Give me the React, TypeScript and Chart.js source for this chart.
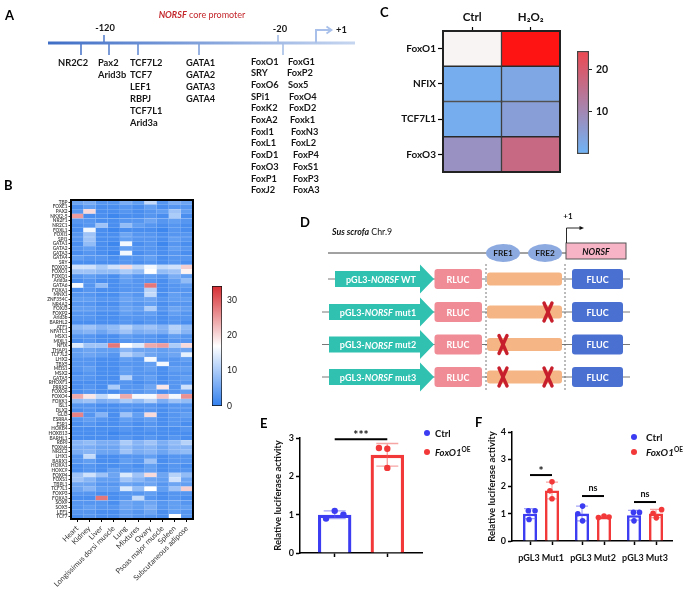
import React, { useEffect, useRef } from 'react';
import { Chart, registerables } from 'chart.js';

Chart.register(...registerables);

const FONT = 'Lato, "DejaVu Sans", "Noto Sans", sans-serif';
Chart.defaults.font.family = FONT;
Chart.defaults.color = '#111';

// ---------------- Panel A (text content) ----------------
const promoterMarks = ['-120', '-20', '+1'];
const siteNR2C2 = ['NR2C2'];
const sitePax = ['Pax2', 'Arid3b'];
const siteTCF = ['TCF7L2', 'TCF7', 'LEF1', 'RBPJ', 'TCF7L1', 'Arid3a'];
const siteGATA = ['GATA1', 'GATA2', 'GATA3', 'GATA4'];
const siteFoxA = ['FoxO1', 'SRY', 'FoxO6', 'SPi1', 'FoxK2', 'FoxA2', 'FoxI1', 'FoxL1', 'FoxD1', 'FoxO3', 'FoxP1', 'FoxJ2'];
const siteFoxB = ['FoxG1', 'FoxP2', 'Sox5', 'FoxO4', 'FoxD2', 'Foxk1', 'FoxN3', 'FoxL2', 'FoxP4', 'FoxS1', 'FoxP3', 'FoxA3'];

// ---------------- Panel B ----------------
const tissues = ['Heart', 'Kidney', 'Liver', 'Longissimus dorsi muscle', 'Lung', 'Mixtures', 'Ovary', 'Psoas major muscle', 'Spleen', 'Subcutaneous adipose'];
const tfGenes = ['TBP', 'FOXE1', 'PAX2', 'NKX2-5', 'NR2F1', 'NR2C1', 'FOXL1', 'FOXI1', 'SPI1', 'GATA1', 'GATA2', 'GATA3', 'GATA4', 'SRY', 'FOXO3', 'FOXO1', 'FOXD1', 'Arid3a', 'GATA6', 'FOXA1', 'MNX1', 'ZNF354C', 'NR4A2', 'FOXJ3', 'FOXP2', 'Arid3b', 'BARHL2', 'ATF1', 'NFATC1', 'MSX1', 'MIXL1', 'NFIX', 'THAP1', 'TCF7L2', 'LHX2', 'TBX5', 'MEIS1', 'MSX2', 'GATA5', 'RHOXF1', 'PRRX2', 'FOXO6', 'FOXO4', 'FOXK1', 'ISL1', 'DLX2', 'GLI3', 'ESRRA', 'ESR1', 'HOXB4', 'HOXB13', 'BARHL1', 'RBPJ', 'FOXN4', 'NR2C2', 'LHX1', 'BARX1', 'HOXA1', 'HOXC9', 'FOXP4', 'FOXS1', 'TBPL1', 'TCF7L1', 'FOXP3', 'FOXA3', 'SOX9', 'SOX5', 'LEF1', 'TCF7'];
const tfExpression = [
  [5, 6, 3, 3, 6, 4, 12, 3, 6, 5],
  [2, 4, 2, 2, 3, 2, 4, 2, 3, 3],
  [3, 20, 2, 2, 3, 2, 3, 4, 9, 4],
  [25, 2, 2, 1, 2, 2, 3, 2, 10, 2],
  [3, 3, 2, 2, 3, 3, 5, 3, 4, 3],
  [2, 3, 9, 2, 8, 4, 3, 2, 3, 2],
  [2, 16, 2, 1, 2, 2, 2, 1, 3, 2],
  [3, 9, 2, 2, 5, 3, 3, 2, 3, 3],
  [3, 9, 2, 2, 4, 3, 3, 2, 4, 3],
  [2, 8, 2, 1, 16, 2, 3, 1, 3, 2],
  [3, 4, 2, 2, 4, 3, 3, 2, 4, 3],
  [2, 3, 2, 1, 16, 2, 3, 2, 3, 2],
  [4, 3, 3, 2, 3, 3, 4, 2, 3, 3],
  [2, 2, 2, 2, 3, 2, 3, 2, 3, 2],
  [13, 13, 10, 13, 20, 12, 16, 12, 13, 21],
  [9, 9, 8, 8, 10, 8, 17, 8, 9, 18],
  [3, 4, 3, 2, 5, 3, 4, 3, 6, 4],
  [2, 3, 2, 2, 4, 3, 3, 2, 4, 8],
  [16, 3, 8, 2, 3, 3, 28, 2, 3, 4],
  [2, 3, 2, 2, 3, 3, 11, 2, 3, 3],
  [3, 3, 2, 2, 4, 3, 12, 2, 4, 3],
  [4, 4, 3, 3, 5, 4, 5, 3, 4, 4],
  [3, 3, 2, 2, 4, 3, 4, 2, 3, 3],
  [4, 4, 3, 3, 5, 4, 10, 3, 5, 4],
  [3, 3, 2, 2, 4, 3, 4, 2, 4, 3],
  [3, 3, 2, 2, 3, 3, 3, 2, 3, 3],
  [2, 2, 2, 2, 3, 2, 3, 2, 3, 2],
  [8, 9, 7, 8, 11, 8, 9, 7, 11, 8],
  [6, 7, 5, 7, 9, 6, 7, 6, 10, 7],
  [3, 3, 2, 2, 4, 3, 3, 2, 4, 3],
  [2, 3, 2, 2, 3, 3, 3, 2, 3, 3],
  [14, 9, 9, 28, 17, 14, 24, 25, 10, 20],
  [4, 5, 4, 4, 7, 5, 5, 4, 5, 5],
  [4, 5, 4, 3, 11, 8, 5, 4, 5, 15],
  [3, 3, 2, 2, 4, 3, 16, 3, 3, 4],
  [3, 3, 2, 2, 3, 3, 4, 16, 3, 3],
  [3, 4, 2, 2, 4, 3, 4, 2, 4, 4],
  [2, 3, 2, 2, 4, 3, 3, 2, 3, 3],
  [3, 3, 2, 2, 11, 3, 4, 2, 3, 4],
  [2, 2, 2, 2, 3, 2, 3, 2, 3, 3],
  [2, 3, 2, 10, 3, 3, 5, 19, 3, 13],
  [2, 3, 2, 2, 3, 3, 4, 2, 3, 4],
  [24, 19, 12, 16, 24, 16, 16, 22, 16, 26],
  [8, 9, 6, 7, 10, 8, 11, 6, 9, 8],
  [3, 3, 2, 2, 3, 3, 3, 2, 3, 3],
  [2, 3, 2, 2, 3, 2, 3, 2, 3, 3],
  [27, 3, 7, 2, 9, 4, 20, 2, 3, 4],
  [3, 4, 3, 2, 4, 3, 4, 2, 3, 3],
  [2, 3, 2, 2, 3, 2, 3, 2, 3, 2],
  [2, 2, 2, 2, 3, 2, 3, 2, 2, 3],
  [2, 2, 2, 1, 2, 2, 2, 2, 2, 2],
  [2, 2, 2, 2, 3, 2, 3, 2, 3, 2],
  [7, 8, 6, 6, 10, 7, 9, 6, 8, 11],
  [6, 6, 5, 5, 8, 6, 7, 5, 7, 7],
  [6, 7, 5, 5, 9, 6, 7, 5, 7, 8],
  [3, 12, 2, 2, 3, 3, 4, 2, 3, 3],
  [3, 4, 2, 2, 4, 3, 9, 2, 3, 3],
  [2, 3, 2, 2, 3, 2, 4, 2, 3, 2],
  [2, 3, 2, 4, 3, 3, 4, 2, 3, 3],
  [9, 13, 9, 5, 14, 9, 20, 5, 11, 8],
  [9, 7, 4, 4, 9, 7, 5, 4, 13, 5],
  [5, 5, 3, 3, 5, 4, 5, 3, 5, 4],
  [5, 7, 4, 4, 14, 8, 17, 4, 9, 21],
  [3, 3, 2, 2, 3, 3, 4, 2, 3, 3],
  [2, 2, 28, 2, 3, 12, 3, 2, 3, 2],
  [3, 3, 3, 2, 5, 4, 5, 3, 4, 3],
  [3, 4, 3, 3, 5, 4, 6, 3, 4, 4],
  [3, 3, 2, 2, 4, 3, 5, 2, 4, 3],
  [2, 3, 2, 2, 4, 3, 3, 2, 17, 3],
];
const bScaleTicks = [0, 10, 20, 30];
const bScaleMax = 34;

// ---------------- Panel C ----------------
const cGenes = ['FoxO1', 'NFIX', 'TCF7L1', 'FoxO3'];
const cConditions = ['Ctrl', 'H\u2082O\u2082'];
const cCtrl = [0.5, 1.5, 1.5, 8];
const cH2O2 = [30, 3, 5, 17];
const cScaleTicks = [10, 20];
const cScaleMin = 1;
const cScaleMax = 24.5;

// ---------------- Panel D (text content) ----------------
const constructNames = ['WT', 'mut1', 'mut2', 'mut3'];
const constructMutatedFRE = [[], [2], [1], [1, 2]];

// ---------------- Panel E ----------------
const eCtrl = [1.1, 0.9, 1.0];
const eOE = [2.74, 2.72, 2.22];
const eCtrlJitter = [0, -0.26, 0.26];
const eOEJitter = [-0.25, 0, 0];
const eSigLevel = 2.97;
const eSigText = '***';

// ---------------- Panel F ----------------
const fGroups = ['pGL3 Mut1', 'pGL3 Mut2', 'pGL3 Mut3'];
const fCtrl = [[1.11, 1.11, 0.79], [1.28, 1.0, 0.74], [1.05, 1.05, 0.74]];
const fOE = [[2.17, 1.84, 1.55], [0.86, 0.92, 0.88], [1.02, 1.15, 0.85]];
const fCtrlJitter = [[-0.12, 0.36, -0.07], [0.04, -0.3, 0.04], [-0.04, 0.39, 0]];
const fOEJitter = [[0, -0.15, 0], [-0.4, 0, 0.36], [-0.21, 0.4, 0.02]];
const fSigLevel = [2.42, 1.65, 1.43];
const fSigText = ['*', 'ns', 'ns'];

// ---------------- helpers ----------------
const BLUE = '#3c3cf2';
const RED = '#f23838';
const BLUE_ERR = 'rgba(90,90,240,0.55)';
const RED_ERR = 'rgba(240,90,90,0.55)';

function lerp(a: number[], b: number[], t: number) {
  const c = a.map((v, i) => Math.round(v + (b[i] - v) * t));
  return `rgb(${c[0]},${c[1]},${c[2]})`;
}
const B_LOW = [50, 128, 238];
const B_MID = [255, 255, 255];
const B_HIGH = [214, 45, 50];
function bColor(v: number) {
  const m = bScaleMax / 2;
  if (v <= m) return lerp(B_LOW, B_MID, Math.max(0, v) / m);
  return lerp(B_MID, B_HIGH, Math.min(1, (v - m) / m));
}
function bBorder(v: number) {
  const m = bScaleMax / 2;
  const base = v <= m ? B_LOW.map((x, i) => x + (B_MID[i] - x) * (v / m)) : B_MID.map((x, i) => x + (B_HIGH[i] - x) * Math.min(1, (v - m) / m));
  return lerp(base, [255, 255, 255], 0.3);
}
const C_LOW = [110, 180, 248];
const C_HIGH = [238, 72, 80];
function cColor(v: number) {
  if (v < cScaleMin) return '#f8f4f4';
  if (v > cScaleMax) return '#ff1414';
  return lerp(C_LOW, C_HIGH, v / cScaleMax);
}
const mean = (a: number[]) => a.reduce((s, v) => s + v, 0) / a.length;
const sd = (a: number[]) => {
  const m = mean(a);
  return Math.sqrt(a.reduce((s, v) => s + (v - m) * (v - m), 0) / (a.length - 1));
};

function barGradient(chart: any, stops: [number, string][]) {
  const { ctx, scales, chartArea } = chart;
  if (!chartArea) return stops[0][1];
  const y = scales.y;
  const g = ctx.createLinearGradient(0, y.getPixelForValue(y.min), 0, y.getPixelForValue(y.max));
  stops.forEach(([t, c]) => g.addColorStop(t, c));
  return g;
}

const framePlugin = {
  id: 'frame',
  afterDraw(chart: any, _a: any, opts: any) {
    const { ctx, chartArea: a } = chart;
    ctx.save();
    ctx.strokeStyle = opts.color || '#000';
    ctx.lineWidth = opts.width || 2;
    ctx.strokeRect(a.left, a.top, a.right - a.left, a.bottom - a.top);
    ctx.restore();
  },
};

const errorBarPlugin = {
  id: 'errorBars',
  afterDatasetDraw(chart: any, args: any, opts: any) {
    if (args.index !== 0 || !opts.items) return;
    const { ctx } = chart;
    const xs = chart.scales.x;
    const ys = chart.scales.y;
    ctx.save();
    ctx.lineWidth = opts.lineWidth;
    for (const e of opts.items) {
      const x = xs.getPixelForValue(e.x);
      const yHi = ys.getPixelForValue(e.mean + e.sd);
      const yLo = ys.getPixelForValue(e.mean - e.sd);
      ctx.strokeStyle = e.color;
      ctx.beginPath();
      ctx.moveTo(x, yHi);
      ctx.lineTo(x, yLo);
      ctx.moveTo(x - opts.cap, yHi);
      ctx.lineTo(x + opts.cap, yHi);
      ctx.moveTo(x - opts.cap, yLo);
      ctx.lineTo(x + opts.cap, yLo);
      ctx.stroke();
    }
    ctx.restore();
  },
};

const sigPlugin = {
  id: 'sig',
  afterDraw(chart: any, _a: any, opts: any) {
    if (!opts.items) return;
    const { ctx } = chart;
    const xs = chart.scales.x;
    const ys = chart.scales.y;
    ctx.save();
    for (const s of opts.items) {
      const x1 = xs.getPixelForValue(s.x1);
      const x2 = xs.getPixelForValue(s.x2);
      const y = ys.getPixelForValue(s.y);
      ctx.strokeStyle = '#000';
      ctx.lineWidth = opts.lineWidth;
      ctx.beginPath();
      ctx.moveTo(x1, y);
      ctx.lineTo(x2, y);
      ctx.stroke();
      ctx.fillStyle = '#111';
      const isNs = s.text === 'ns';
      ctx.font = `bold ${isNs ? opts.nsSize : opts.starSize}px ${FONT}`;
      ctx.textAlign = 'center';
      ctx.textBaseline = 'alphabetic';
      ctx.fillText(s.text, (x1 + x2) / 2, y - (isNs ? 5 : 0));
    }
    ctx.restore();
  },
};

const noLegend = { legend: { display: false }, tooltip: { enabled: false } };
const tickGrid = (len: number, w = 1.5) => ({ display: true, drawOnChartArea: false, drawTicks: true, tickLength: len, tickColor: '#000', tickWidth: w, offset: false });

// ---------------- chart configs ----------------
function heatmapB(): any {
  return {
    type: 'bar',
    data: {
      labels: tfGenes,
      datasets: tissues.map((t, c) => ({
        label: t,
        data: tfGenes.map(() => [c, c + 1]),
        backgroundColor: tfExpression.map((r) => bColor(r[c])),
        borderColor: tfExpression.map((r) => bBorder(r[c])),
        borderWidth: 0.5,
        borderSkipped: false,
        grouped: false,
        barPercentage: 1,
        categoryPercentage: 1,
      })),
    },
    options: {
      indexAxis: 'y',
      animation: false,
      responsive: false,
      maintainAspectRatio: false,
      layout: { padding: { left: 0, top: 5, right: 7, bottom: 0 } },
      plugins: { ...noLegend, frame: { width: 2 } },
      scales: {
        y: {
          afterFit: (s: any) => { s.width = 71; },
          ticks: { autoSkip: false, font: { size: 4.7, weight: 'bold' }, color: '#4a4a4a', padding: 1 },
          grid: tickGrid(2.5, 0.8),
          border: { color: '#000', width: 2 },
        },
        x: {
          type: 'linear', min: 0, max: 10, offset: false,
          afterBuildTicks: (s: any) => { s.ticks = tissues.map((_, i) => ({ value: i + 0.5 })); },
          afterFit: (s: any) => { s.height = 70; },
          ticks: { callback: (v: number) => tissues[Math.floor(v)], minRotation: 45, maxRotation: 45, autoSkip: false, font: { size: 7.5 }, color: '#333', padding: 2 },
          grid: tickGrid(3, 1),
          border: { color: '#000', width: 2 },
        },
      },
    },
    plugins: [framePlugin],
  };
}

function colorbarB(): any {
  const stops: [number, string][] = [[0, bColor(0)], [0.5, bColor(bScaleMax / 2)], [1, bColor(bScaleMax)]];
  return {
    type: 'bar',
    data: { labels: [''], datasets: [{ data: [[0, bScaleMax]], backgroundColor: (ctx: any) => barGradient(ctx.chart, stops), borderColor: '#111', borderWidth: 1, borderSkipped: false, barPercentage: 1, categoryPercentage: 1 }] },
    options: {
      animation: false, responsive: false, maintainAspectRatio: false,
      layout: { padding: { left: 12, top: 7, right: 0, bottom: 9 } },
      plugins: noLegend,
      scales: {
        x: { display: false },
        y: {
          position: 'right', min: 0, max: bScaleMax,
          afterBuildTicks: (s: any) => { s.ticks = bScaleTicks.map((v) => ({ value: v })); },
          afterFit: (s: any) => { s.width = 23; },
          ticks: { font: { size: 8.5 }, color: '#111', padding: 5 },
          grid: { display: false, drawTicks: false },
          border: { display: false },
        },
      },
    },
  };
}

function heatmapC(): any {
  return {
    type: 'bar',
    data: {
      labels: cGenes,
      datasets: [cCtrl, cH2O2].map((vals, k) => ({
        label: cConditions[k],
        data: cGenes.map(() => [k, k + 1]),
        backgroundColor: vals.map(cColor),
        borderColor: '#2a2a2a',
        borderWidth: 1,
        borderSkipped: false,
        grouped: false,
        barPercentage: 1,
        categoryPercentage: 1,
      })),
    },
    options: {
      indexAxis: 'y', animation: false, responsive: false, maintainAspectRatio: false,
      layout: { padding: { left: 0, top: 0, right: 5, bottom: 7 } },
      plugins: { ...noLegend, frame: { width: 2, color: '#222' } },
      scales: {
        x: {
          type: 'linear', position: 'top', min: 0, max: 2, offset: false,
          afterBuildTicks: (s: any) => { s.ticks = cConditions.map((_, k) => ({ value: k + 0.5 })); },
          afterFit: (s: any) => { s.height = 31; },
          ticks: { callback: (v: number) => cConditions[Math.floor(v)], font: { size: 11.5, weight: 'bold' }, color: '#111', padding: 3, maxRotation: 0 },
          grid: tickGrid(4, 1.2),
          border: { color: '#222', width: 2 },
        },
        y: {
          afterFit: (s: any) => { s.width = 63; },
          ticks: { font: { size: 10, weight: 'bold' }, color: '#111', padding: 2 },
          grid: tickGrid(5, 1.2),
          border: { color: '#222', width: 2 },
        },
      },
    },
    plugins: [framePlugin],
  };
}

function colorbarC(): any {
  const stops: [number, string][] = [[0, lerp(C_LOW, C_HIGH, 0)], [1, lerp(C_LOW, C_HIGH, 1)]];
  return {
    type: 'bar',
    data: { labels: [''], datasets: [{ data: [[0, cScaleMax]], backgroundColor: (ctx: any) => barGradient(ctx.chart, stops), borderColor: '#444', borderWidth: 1.5, borderSkipped: false, barPercentage: 1, categoryPercentage: 1 }] },
    options: {
      animation: false, responsive: false, maintainAspectRatio: false,
      layout: { padding: { left: 12, top: 11, right: 0, bottom: 11 } },
      plugins: noLegend,
      scales: {
        x: { display: false },
        y: {
          position: 'right', min: 0, max: cScaleMax,
          afterBuildTicks: (s: any) => { s.ticks = cScaleTicks.map((v) => ({ value: v })); },
          afterFit: (s: any) => { s.width = 31; },
          ticks: { font: { size: 10.5, weight: 'bold' }, color: '#111', padding: 4 },
          grid: { display: true, drawOnChartArea: false, drawTicks: true, tickLength: 3, tickColor: '#222', tickWidth: 1 },
          border: { display: false },
        },
      },
    },
  };
}

const E_BAR_PCT = 0.635;
function chartE(): any {
  return {
    type: 'bar',
    data: {
      datasets: [
        { type: 'bar', data: [{ x: 0, y: mean(eCtrl) }, { x: 1, y: mean(eOE) }], backgroundColor: '#fff', borderColor: [BLUE, RED], borderWidth: 3.3, barPercentage: E_BAR_PCT, categoryPercentage: 1, order: 2 },
        { type: 'scatter', data: eCtrl.map((v, i) => ({ x: 0 + eCtrlJitter[i] * E_BAR_PCT, y: v })), backgroundColor: BLUE, pointRadius: 3.2, borderWidth: 0, order: 0 },
        { type: 'scatter', data: eOE.map((v, i) => ({ x: 1 + eOEJitter[i] * E_BAR_PCT, y: v })), backgroundColor: RED, pointRadius: 3.2, borderWidth: 0, order: 0 },
      ],
    },
    options: {
      animation: false, responsive: false, maintainAspectRatio: false,
      layout: { padding: { left: 0, top: 13, right: 6, bottom: 0 } },
      plugins: {
        ...noLegend,
        errorBars: { lineWidth: 1.4, cap: 11, items: [{ x: 0, mean: mean(eCtrl), sd: sd(eCtrl), color: BLUE_ERR }, { x: 1, mean: mean(eOE), sd: sd(eOE), color: RED_ERR }] },
        sig: { lineWidth: 2, starSize: 12, nsSize: 9, items: [{ x1: 0, x2: 1, y: eSigLevel, text: eSigText }] },
      },
      scales: {
        x: {
          type: 'linear', min: -0.66, max: 1.66, offset: false,
          afterBuildTicks: (s: any) => { s.ticks = [{ value: 0 }, { value: 1 }]; },
          afterFit: (s: any) => { s.height = 17; },
          ticks: { callback: () => '' },
          grid: tickGrid(4),
          border: { color: '#000', width: 1.5 },
        },
        y: {
          min: 0, max: 3,
          ticks: { stepSize: 1, font: { size: 9, weight: 'bold' }, color: '#111', padding: 2 },
          afterFit: (s: any) => { s.width = 28; },
          grid: tickGrid(4),
          border: { color: '#000', width: 1.5 },
          title: { display: true, text: 'Relative luciferase activity', font: { size: 9.5, weight: 'bold' }, color: '#111', padding: { top: 0, bottom: 0 } },
        },
      },
    },
    plugins: [errorBarPlugin, sigPlugin],
  };
}

const F_OFF = 0.2115;
const F_BAR_PCT = 0.636;
const F_MIN = -0.558;
const F_MAX = 2.519;
function chartF(): any {
  const barW = 2 * F_OFF * F_BAR_PCT;
  const ctrlPts: any[] = [];
  const oePts: any[] = [];
  fGroups.forEach((_, g) => {
    fCtrl[g].forEach((v, i) => ctrlPts.push({ x: g - F_OFF + fCtrlJitter[g][i] * barW, y: v }));
    fOE[g].forEach((v, i) => oePts.push({ x: g + F_OFF + fOEJitter[g][i] * barW, y: v }));
  });
  const errItems: any[] = [];
  fGroups.forEach((_, g) => {
    errItems.push({ x: g - F_OFF, mean: mean(fCtrl[g]), sd: sd(fCtrl[g]), color: BLUE_ERR });
    errItems.push({ x: g + F_OFF, mean: mean(fOE[g]), sd: sd(fOE[g]), color: RED_ERR });
  });
  return {
    type: 'bar',
    data: {
      datasets: [
        { type: 'bar', data: fGroups.map((_, g) => ({ x: g - F_OFF, y: mean(fCtrl[g]) })), backgroundColor: '#fff', borderColor: BLUE, borderWidth: 2.6, barPercentage: F_BAR_PCT, categoryPercentage: 1, grouped: false, order: 2 },
        { type: 'bar', data: fGroups.map((_, g) => ({ x: g + F_OFF, y: mean(fOE[g]) })), backgroundColor: '#fff', borderColor: RED, borderWidth: 2.6, barPercentage: F_BAR_PCT, categoryPercentage: 1, grouped: false, order: 2 },
        { type: 'scatter', data: ctrlPts, backgroundColor: BLUE, pointRadius: 2.8, borderWidth: 0, order: 0 },
        { type: 'scatter', data: oePts, backgroundColor: RED, pointRadius: 2.8, borderWidth: 0, order: 0 },
      ],
    },
    options: {
      animation: false, responsive: false, maintainAspectRatio: false,
      layout: { padding: { left: 0, top: 12, right: 4, bottom: 0 } },
      plugins: {
        ...noLegend,
        errorBars: { lineWidth: 1.2, cap: 6, items: errItems },
        sig: { lineWidth: 2, starSize: 12, nsSize: 9, items: fGroups.map((_, g) => ({ x1: g - F_OFF, x2: g + F_OFF, y: fSigLevel[g], text: fSigText[g] })) },
      },
      scales: {
        x: {
          type: 'linear', min: F_MIN, max: F_MAX, offset: false, weight: 0,
          afterBuildTicks: (s: any) => { s.ticks = fGroups.flatMap((_, g) => [{ value: g - F_OFF }, { value: g + F_OFF }]); },
          afterFit: (s: any) => { s.height = 6; },
          ticks: { callback: () => '', padding: 0 },
          grid: tickGrid(4),
          border: { color: '#000', width: 1.5 },
        },
        x2: {
          axis: 'x', type: 'linear', position: 'bottom', min: F_MIN, max: F_MAX, offset: false, weight: 1,
          afterBuildTicks: (s: any) => { s.ticks = fGroups.map((_, g) => ({ value: g })); },
          afterFit: (s: any) => { s.height = 33; },
          ticks: { callback: (v: number) => fGroups[Math.round(v)], font: { size: 9, weight: 'bold' }, color: '#111', padding: 6, maxRotation: 0, autoSkip: false },
          grid: { display: false, drawTicks: false },
          border: { display: false },
        },
        y: {
          min: 0, max: 4,
          ticks: { stepSize: 1, font: { size: 9, weight: 'bold' }, color: '#111', padding: 2 },
          afterFit: (s: any) => { s.width = 26; },
          grid: tickGrid(4),
          border: { color: '#000', width: 1.5 },
          title: { display: true, text: 'Relative luciferase activity', font: { size: 9.5, weight: 'bold' }, color: '#111', padding: { top: 0, bottom: 0 } },
        },
      },
    },
    plugins: [errorBarPlugin, sigPlugin],
  };
}

// ---------------- SVG pieces ----------------
const A_L = [63, 110, 198];
const A_R = [198, 214, 240];
const aColorAt = (x: number) => lerp(A_L, A_R, Math.min(1, Math.max(0, (x - 48) / 307)));

function PanelA() {
  const txt = { fontSize: 9.3, fontWeight: 700, fill: '#161616' } as any;
  const foxBx = [288, 287, 288, 289, 289, 290, 291, 291, 293, 293, 293, 293];
  return (
    <g>
      <defs>
        <linearGradient id="aLine" x1="0" x2="1" y1="0" y2="0">
          <stop offset="0" stopColor={lerp(A_L, A_L, 0)} />
          <stop offset="1" stopColor={lerp(A_R, A_R, 0)} />
        </linearGradient>
      </defs>
      <text x={5} y={20} fontSize={13} fontWeight={700}>A</text>
      <text x={202} y={18} fontSize={9} fill="#c3262b" textAnchor="middle">
        <tspan fontStyle="italic" fontWeight={700}>NORSF</tspan>
        <tspan> core promoter</tspan>
      </text>
      <rect x={48} y={41.5} width={307} height={3} fill="url(#aLine)" />
      <line x1={104} y1={35} x2={104} y2={43} stroke={aColorAt(104)} strokeWidth={1.6} />
      <line x1={278} y1={35} x2={278} y2={43} stroke={aColorAt(278)} strokeWidth={1.6} />
      <text x={105} y={31} textAnchor="middle" {...txt}>{promoterMarks[0]}</text>
      <text x={280} y={32} textAnchor="middle" {...txt}>{promoterMarks[1]}</text>
      {[81, 109, 138, 199, 283].map((x) => (
        <line key={x} x1={x} y1={44} x2={x} y2={55} stroke={aColorAt(x)} strokeWidth={1.6} />
      ))}
      <polyline points="316,43 316,30 330,30" fill="none" stroke="#a8c0ea" strokeWidth={2} />
      <polyline points="326.5,26.5 331.5,30 326.5,33.5" fill="none" stroke="#a8c0ea" strokeWidth={1.8} />
      <text x={336} y={33} {...txt}>{promoterMarks[2]}</text>
      {siteNR2C2.map((s, i) => <text key={s} x={58} y={66 + i * 12} {...txt}>{s}</text>)}
      {sitePax.map((s, i) => <text key={s} x={98} y={66 + i * 12} {...txt}>{s}</text>)}
      {siteTCF.map((s, i) => <text key={s} x={130} y={66 + i * 12} {...txt}>{s}</text>)}
      {siteGATA.map((s, i) => <text key={s} x={186} y={66 + i * 12} {...txt}>{s}</text>)}
      {siteFoxA.map((s, i) => <text key={s} x={251} y={64.5 + i * 11.7} {...txt}>{s}</text>)}
      {siteFoxB.map((s, i) => <text key={s} x={foxBx[i]} y={64.5 + i * 11.7} {...txt}>{s}</text>)}
    </g>
  );
}

function PanelD() {
  const rowY = [279, 312, 344.5, 377];
  const freX = [503, 545];
  const fs = 9;
  return (
    <g>
      <text x={300} y={227} fontSize={13} fontWeight={700}>D</text>
      <text x={332} y={235} fontSize={8.8} fill="#111">
        <tspan fontStyle="italic" fontWeight={700}>Sus scrofa</tspan>
        <tspan>  Chr.9</tspan>
      </text>
      <line x1={328} y1={253} x2={566} y2={253} stroke="#444" strokeWidth={1} />
      {freX.map((cx, i) => (
        <g key={cx}>
          <ellipse cx={cx} cy={253} rx={17} ry={9} fill="#8daae0" />
          <text x={cx} y={253} fontSize={8.3} fontWeight={700} fill="#1a1a1a" textAnchor="middle" dominantBaseline="central">{`FRE${i + 1}`}</text>
        </g>
      ))}
      <rect x={566} y={243} width={60} height={16} fill="#f7b4c7" stroke="#555" strokeWidth={1} />
      <text x={596} y={251.5} fontSize={8.8} fontWeight={700} fontStyle="italic" fill="#111" textAnchor="middle" dominantBaseline="central">NORSF</text>
      <polyline points="566.5,243 566.5,228 581,228" fill="none" stroke="#111" strokeWidth={0.9} />
      <polygon points="584,228 579.5,226 579.5,230" fill="#111" />
      <text x={568} y={219} fontSize={8} fontWeight={700} fill="#111" textAnchor="middle">+1</text>
      <line x1={486} y1={264} x2={486} y2={392} stroke="#555" strokeWidth={0.8} strokeDasharray="2,2" />
      <line x1={565} y1={264} x2={565} y2={392} stroke="#555" strokeWidth={0.8} strokeDasharray="2,2" />
      {constructNames.map((name, i) => {
        const y = rowY[i];
        const x0 = i === 0 ? 335 : 329;
        return (
          <g key={name}>
            <line x1={x0 - 7} y1={y} x2={630} y2={y} stroke="#555" strokeWidth={0.8} />
            <polygon points={`${x0},${y - 8} 420,${y - 8} 420,${y - 14.5} 434,${y} 420,${y + 14.5} 420,${y + 8} ${x0},${y + 8}`} fill="#30c1b1" />
            <text x={i === 0 ? 381 : 378} y={y} fontSize={fs} fontWeight={700} fill="#fff" textAnchor="middle" dominantBaseline="central">
              pGL3-<tspan fontStyle="italic">NORSF</tspan> {name}
            </text>
            <rect x={434.5} y={y - 10} width={47.5} height={20} rx={3} fill="#f08c96" />
            <text x={458} y={y} fontSize={fs} fontWeight={700} fill="#fff" textAnchor="middle" dominantBaseline="central">RLUC</text>
            <rect x={487} y={y - 6.5} width={75} height={13} rx={3} fill="#f5b584" />
            <rect x={572} y={y - 10} width={51} height={20} rx={3} fill="#4a70d2" />
            <text x={597.5} y={y} fontSize={fs} fontWeight={700} fill="#fff" textAnchor="middle" dominantBaseline="central">FLUC</text>
            {constructMutatedFRE[i].map((f) => {
              const cx = f === 1 ? 503 : 548;
              return (
                <g key={f} stroke="#c81f2c" strokeWidth={3.4} strokeLinecap="round">
                  <line x1={cx - 4} y1={y - 9} x2={cx + 4} y2={y + 9} />
                  <line x1={cx + 4} y1={y - 9} x2={cx - 4} y2={y + 9} />
                </g>
              );
            })}
          </g>
        );
      })}
    </g>
  );
}

function Legends() {
  return (
    <g fontWeight={700} fill="#111">
      <circle cx={427} cy={433} r={3} fill={BLUE} />
      <text x={435} y={436.5} fontSize={9.5}>Ctrl</text>
      <circle cx={427} cy={452} r={3} fill={RED} />
      <text x={435} y={455.5} fontSize={9.5}>
        <tspan fontStyle="italic">FoxO1</tspan>
        <tspan dy={-4} fontSize={6.5}>OE</tspan>
      </text>
      <circle cx={634} cy={437} r={3} fill={BLUE} />
      <text x={646} y={440.5} fontSize={10}>Ctrl</text>
      <circle cx={634} cy={452} r={3} fill={RED} />
      <text x={646} y={455.5} fontSize={10}>
        <tspan fontStyle="italic">FoxO1</tspan>
        <tspan dy={-4} fontSize={6.5}>OE</tspan>
      </text>
    </g>
  );
}

export default function App() {
  const bRef = useRef<HTMLCanvasElement>(null);
  const bBarRef = useRef<HTMLCanvasElement>(null);
  const cRef = useRef<HTMLCanvasElement>(null);
  const cBarRef = useRef<HTMLCanvasElement>(null);
  const eRef = useRef<HTMLCanvasElement>(null);
  const fRef = useRef<HTMLCanvasElement>(null);

  useEffect(() => {
    const charts: Chart[] = [];
    const make = (r: any, cfg: any) => { if (r.current) charts.push(new Chart(r.current, cfg)); };
    make(bRef, heatmapB());
    make(bBarRef, colorbarB());
    make(cRef, heatmapC());
    make(cBarRef, colorbarC());
    make(eRef, chartE());
    make(fRef, chartF());
    return () => charts.forEach((c) => c.destroy());
  }, []);

  const cv = (ref: any, left: number, top: number, w: number, h: number) => (
    <canvas ref={ref} width={w} height={h} style={{ position: 'absolute', left, top, width: w, height: h }} />
  );

  return (
    <div style={{ position: 'relative', width: 685, height: 589, background: '#fff', overflow: 'hidden', fontFamily: FONT }}>
      <style>{'html,body{margin:0;padding:0;background:#fff;}'}</style>
      {cv(bRef, 0, 195, 200, 394)}
      {cv(bBarRef, 200, 276, 45, 140)}
      {cv(cRef, 380, 0, 185, 180)}
      {cv(cBarRef, 565, 40, 55, 125)}
      {cv(eRef, 272, 425, 156, 145)}
      {cv(fRef, 486, 420, 190, 160)}
      <svg width={685} height={589} style={{ position: 'absolute', left: 0, top: 0, pointerEvents: 'none' }} fontFamily={FONT}>
        <PanelA />
        <text x={4} y={190} fontSize={13} fontWeight={700}>B</text>
        <text x={380} y={17} fontSize={13} fontWeight={700}>C</text>
        <PanelD />
        <text x={260} y={428} fontSize={13} fontWeight={700}>E</text>
        <text x={475} y={427} fontSize={13} fontWeight={700}>F</text>
        <Legends />
      </svg>
    </div>
  );
}
